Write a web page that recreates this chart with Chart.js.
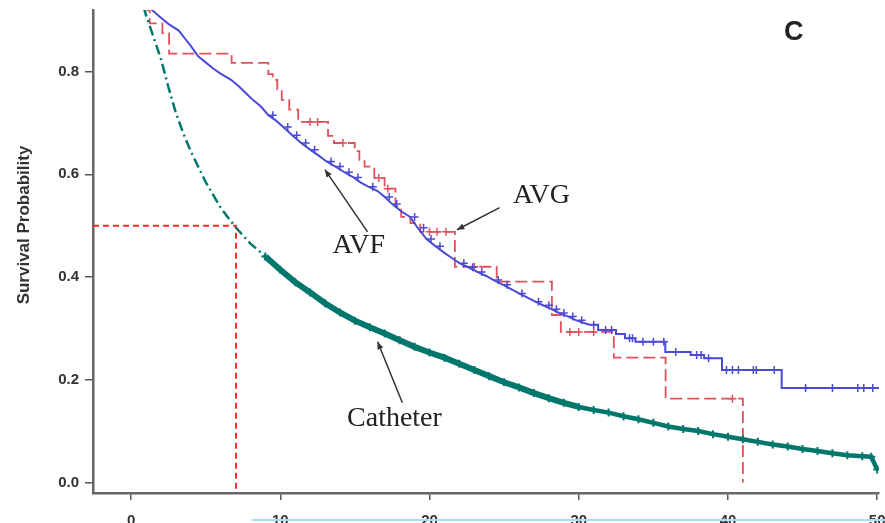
<!DOCTYPE html>
<html>
<head>
<meta charset="utf-8">
<title>Survival by vascular access</title>
<script src="https://cdn.jsdelivr.net/npm/chart.js@4.4.1/dist/chart.umd.min.js"></script>
<style>
  html, body { margin: 0; padding: 0; background: #fff; }
  #wrap { width: 885px; height: 523px; position: relative; }
</style>
</head>
<body>
<div id="wrap"><canvas id="survivalChart"></canvas></div>
<script>
/* ---- values (time vs survival probability) ---- */
const xTicks = [0, 10, 20, 30, 40, 50];
const yTicks = [0.0, 0.2, 0.4, 0.6, 0.8];

// Catheter: smooth curve, dash-dot early, dense censor marks later
const catheterTime = [0, 0.5, 1, 1.5, 2, 2.5, 3, 3.5, 4, 5, 6, 7, 8, 9, 10, 11, 12, 13, 14, 15, 16, 17, 18, 19, 20,
  21, 22, 23, 24, 25, 26, 27, 28, 29, 30, 31, 32, 33, 34, 35, 36, 37, 38, 39, 40, 41, 42, 43, 44, 45, 46, 47, 48, 49, 49.6, 50];
const catheterSurv = [1.0, 0.96, 0.91, 0.868, 0.825, 0.77, 0.72, 0.68, 0.645, 0.585, 0.535, 0.497, 0.465, 0.44, 0.414,
  0.39, 0.37, 0.349, 0.331, 0.315, 0.302, 0.29, 0.277, 0.264, 0.253, 0.243, 0.231, 0.219, 0.207, 0.195, 0.185, 0.174,
  0.164, 0.155, 0.147, 0.141, 0.136, 0.129, 0.123, 0.116, 0.109, 0.104, 0.1, 0.094, 0.089, 0.084, 0.079, 0.074, 0.07,
  0.065, 0.061, 0.057, 0.053, 0.051, 0.05, 0.025];

// AVF: Kaplan-Meier (many small events early, clear steps after ~31)
const avfTime = [0, 0.5, 1.0, 1.4, 2.0, 2.5, 3.2, 3.6, 4.0, 4.5, 5.0, 5.5, 6.0, 6.7, 7.2, 7.7, 8.2, 8.7, 9.2, 9.7, 10.2,
  10.8, 11.4, 12.0, 12.6, 13.1, 13.7, 14.3, 14.9, 15.4, 15.9, 16.5, 17.0, 17.5, 18.1, 18.7, 19.2, 19.8, 20.4, 21.0, 21.5,
  22.0, 22.6, 23.2, 23.8, 24.3, 24.9, 25.5, 26.0, 26.5, 27.1, 27.6, 28.2, 28.7, 29.3, 29.8, 30.7, 31.3, 32.5, 33.1, 33.8,
  35.8, 37.5, 38.4, 39.6, 43.6, 50.2];
const avfSurv = [1.0, 0.975, 0.945, 0.92, 0.905, 0.893, 0.88, 0.865, 0.85, 0.83, 0.818, 0.806, 0.796, 0.784, 0.772, 0.758,
  0.744, 0.732, 0.715, 0.705, 0.692, 0.676, 0.661, 0.648, 0.636, 0.625, 0.615, 0.604, 0.594, 0.584, 0.576, 0.568, 0.556,
  0.542, 0.528, 0.517, 0.496, 0.474, 0.46, 0.447, 0.437, 0.427, 0.419, 0.41, 0.402, 0.394, 0.385, 0.376, 0.368, 0.361,
  0.352, 0.345, 0.337, 0.33, 0.323, 0.316, 0.307, 0.297, 0.289, 0.281, 0.274, 0.254, 0.248, 0.242, 0.219, 0.184, 0.184];
const avfCensored = [9.5, 10.5, 11.1, 11.7, 12.3, 13.4, 14.0, 14.6, 15.2, 16.2, 17.3, 17.8, 19.0, 19.6, 20.1, 20.7, 22.3,
  22.9, 23.5, 24.6, 25.2, 26.2, 27.3, 28.0, 28.5, 29.0, 29.6, 30.2, 31.0, 31.8, 32.2, 33.4, 33.6, 34.3, 35.0, 35.7, 36.5,
  37.9, 38.2, 38.7, 39.9, 40.3, 40.7, 41.7, 41.9, 43.1, 45.2, 47.0, 48.7, 49.1, 49.7];
const avfStepsFrom = 30.7; // from here on the steps are wide enough to see

// AVG: Kaplan-Meier steps
const avgTime = [0, 0.7, 1.08, 1.25, 2.1, 2.55, 6.74, 9.2, 9.5, 9.8, 10.1, 10.6, 11.2, 13.2, 13.6, 14.99, 15.3, 15.65,
  16.3, 16.99, 17.72, 18.1, 18.72, 19.38, 21.7, 24.5, 28.2, 28.8, 32.35, 35.82, 41.0];
const avgSurv = [1.0, 0.96, 0.92, 0.894, 0.875, 0.835, 0.817, 0.795, 0.784, 0.765, 0.745, 0.726, 0.702, 0.675, 0.661,
  0.645, 0.628, 0.615, 0.593, 0.572, 0.537, 0.517, 0.505, 0.488, 0.42, 0.391, 0.326, 0.293, 0.243, 0.163, 0.0];
const avgCensored = [12.0, 12.5, 14.2, 16.6, 17.2, 20.0, 20.5, 21.1, 23.0, 29.4, 30.0, 31.0, 40.3];

// median survival of catheter group
const medianTime = 7.03;
const medianSurv = 0.5;

const X_MIN = -2.55, X_MAX = 50.12;
const Y_MIN = -0.0206, Y_MAX = 0.92;

/* ---- helpers ---- */
const toPoints = (times, vals) => times.map((t, i) => ({ x: t, y: vals[i] }));
function stepAt(times, vals, t) {
  let v = vals[0];
  for (let i = 0; i < times.length; i++) { if (times[i] <= t) v = vals[i]; }
  return v;
}
const censorPoints = (cens, times, vals) => cens.map(t => ({ x: t, y: stepAt(times, vals, t) }));

const avfPoints = toPoints(avfTime, avfSurv);

/* ---- text annotations and arrows (data coordinates) ---- */
const curveNotes = [
  { text: "AVF", at: [15.26, 0.462], from: [15.85, 0.488], tip: [12.99, 0.609] },
  { text: "AVG", at: [27.5, 0.558], from: [24.7, 0.535], tip: [21.84, 0.492] },
  { text: "Catheter", at: [17.65, 0.124], from: [18.18, 0.155], tip: [16.52, 0.274] }
];

const notesPlugin = {
  id: "notes",
  afterDraw(chart) {
    const { ctx, scales: { x, y } } = chart;
    ctx.save();
    // arrows
    ctx.strokeStyle = "#333";
    ctx.fillStyle = "#333";
    ctx.lineWidth = 1.5;
    curveNotes.forEach(n => {
      const x0 = x.getPixelForValue(n.from[0]), y0 = y.getPixelForValue(n.from[1]);
      const x1 = x.getPixelForValue(n.tip[0]), y1 = y.getPixelForValue(n.tip[1]);
      const ang = Math.atan2(y1 - y0, x1 - x0);
      ctx.beginPath();
      ctx.moveTo(x0, y0);
      ctx.lineTo(x1, y1);
      ctx.stroke();
      ctx.beginPath();
      ctx.moveTo(x1, y1);
      ctx.lineTo(x1 - 8 * Math.cos(ang - 0.4), y1 - 8 * Math.sin(ang - 0.4));
      ctx.lineTo(x1 - 8 * Math.cos(ang + 0.4), y1 - 8 * Math.sin(ang + 0.4));
      ctx.closePath();
      ctx.fill();
    });
    // curve labels
    ctx.fillStyle = "#222";
    ctx.font = "28px 'Liberation Serif', serif";
    ctx.textAlign = "center";
    ctx.textBaseline = "middle";
    curveNotes.forEach(n => {
      ctx.fillText(n.text, x.getPixelForValue(n.at[0]), y.getPixelForValue(n.at[1]));
    });
    // panel letter
    ctx.font = "bold 27px 'Liberation Sans', Arial, sans-serif";
    ctx.fillText("C", x.getPixelForValue(44.4), y.getPixelForValue(0.877));
    // y axis title
    ctx.translate(24, 225);
    ctx.rotate(-Math.PI / 2);
    ctx.font = "bold 17px 'Liberation Sans', Arial, sans-serif";
    ctx.fillStyle = "#333";
    ctx.fillText("Survival Probability", 0, 0);
    ctx.restore();
    // thin cyan scan edge along the bottom of the figure
    ctx.save();
    ctx.strokeStyle = "#a9dcef";
    ctx.lineWidth = 2;
    ctx.beginPath();
    ctx.moveTo(252, 520);
    ctx.lineTo(885, 520);
    ctx.stroke();
    ctx.restore();
  }
};

const TEAL = "#00776c";
const BLUE = "#4a4ad6";
const RED = "#e2505e";

new Chart(document.getElementById("survivalChart"), {
  type: "line",
  data: {
    datasets: [
      {
        label: "Catheter",
        data: toPoints(catheterTime, catheterSurv),
        borderColor: TEAL,
        backgroundColor: TEAL,
        borderWidth: 6,
        pointStyle: "cross",
        pointRadius: c => (c.raw && c.raw.x >= 9 ? 4 : 0),
        pointBorderWidth: 2,
        segment: {
          borderDash: c => (c.p0.parsed.x < 9 ? [10, 4, 2, 4] : undefined),
          borderWidth: c => (c.p0.parsed.x < 9 ? 2.5 : (c.p0.parsed.x >= 30 ? 4.5 : undefined))
        }
      },
      {
        label: "AVF",
        data: avfPoints.filter(p => p.x <= avfStepsFrom),
        borderColor: BLUE,
        borderWidth: 2,
        pointRadius: 0
      },
      {
        label: "AVF (tail)",
        data: avfPoints.filter(p => p.x >= avfStepsFrom),
        stepped: true,
        borderColor: BLUE,
        borderWidth: 2,
        pointRadius: 0
      },
      {
        label: "AVF censored",
        data: censorPoints(avfCensored, avfTime, avfSurv),
        showLine: false,
        pointStyle: "cross",
        pointRadius: 4,
        pointBorderWidth: 1.5,
        borderColor: BLUE
      },
      {
        label: "AVG",
        data: toPoints(avgTime, avgSurv),
        stepped: true,
        borderColor: RED,
        borderWidth: 1.8,
        borderDash: [12, 5],
        pointRadius: 0
      },
      {
        label: "AVG censored",
        data: censorPoints(avgCensored, avgTime, avgSurv),
        showLine: false,
        pointStyle: "cross",
        pointRadius: 4,
        pointBorderWidth: 1.5,
        borderColor: RED
      },
      {
        label: "Median",
        data: [{ x: X_MIN, y: medianSurv }, { x: medianTime, y: medianSurv }, { x: medianTime, y: Y_MIN }],
        borderColor: "#ff2a2a",
        borderWidth: 2,
        borderDash: [6, 4],
        pointRadius: 0
      }
    ]
  },
  options: {
    responsive: true,
    maintainAspectRatio: false,
    animation: false,
    layout: { padding: { top: 10, right: 0, bottom: 0, left: 0 } },
    plugins: { legend: { display: false }, tooltip: { enabled: false } },
    scales: {
      x: {
        type: "linear",
        min: X_MIN,
        max: X_MAX,
        afterBuildTicks: s => { s.ticks = xTicks.map(v => ({ value: v })); },
        afterFit: s => { s.height = 30; s.paddingLeft = 0; s.paddingRight = 0; },
        grid: { drawOnChartArea: false, tickLength: 7, color: "#555", lineWidth: 1.5 },
        border: { color: "#666", width: 2.5 },
        ticks: { color: "#333", font: { family: "'Liberation Sans', Arial", size: 15, weight: "bold" }, padding: 12, maxRotation: 0, autoSkip: false }
      },
      y: {
        min: Y_MIN,
        max: Y_MAX,
        afterBuildTicks: s => { s.ticks = yTicks.map(v => ({ value: v })); },
        afterFit: s => { s.width = 93; s.paddingTop = 0; s.paddingBottom = 0; },
        grid: { drawOnChartArea: false, tickLength: 8, color: "#555", lineWidth: 1.5 },
        border: { color: "#666", width: 2.5 },
        ticks: { color: "#333", font: { family: "'Liberation Sans', Arial", size: 15, weight: "bold" }, padding: 6, callback: v => v.toFixed(1) }
      }
    }
  },
  plugins: [notesPlugin]
});
</script>
</body>
</html>
